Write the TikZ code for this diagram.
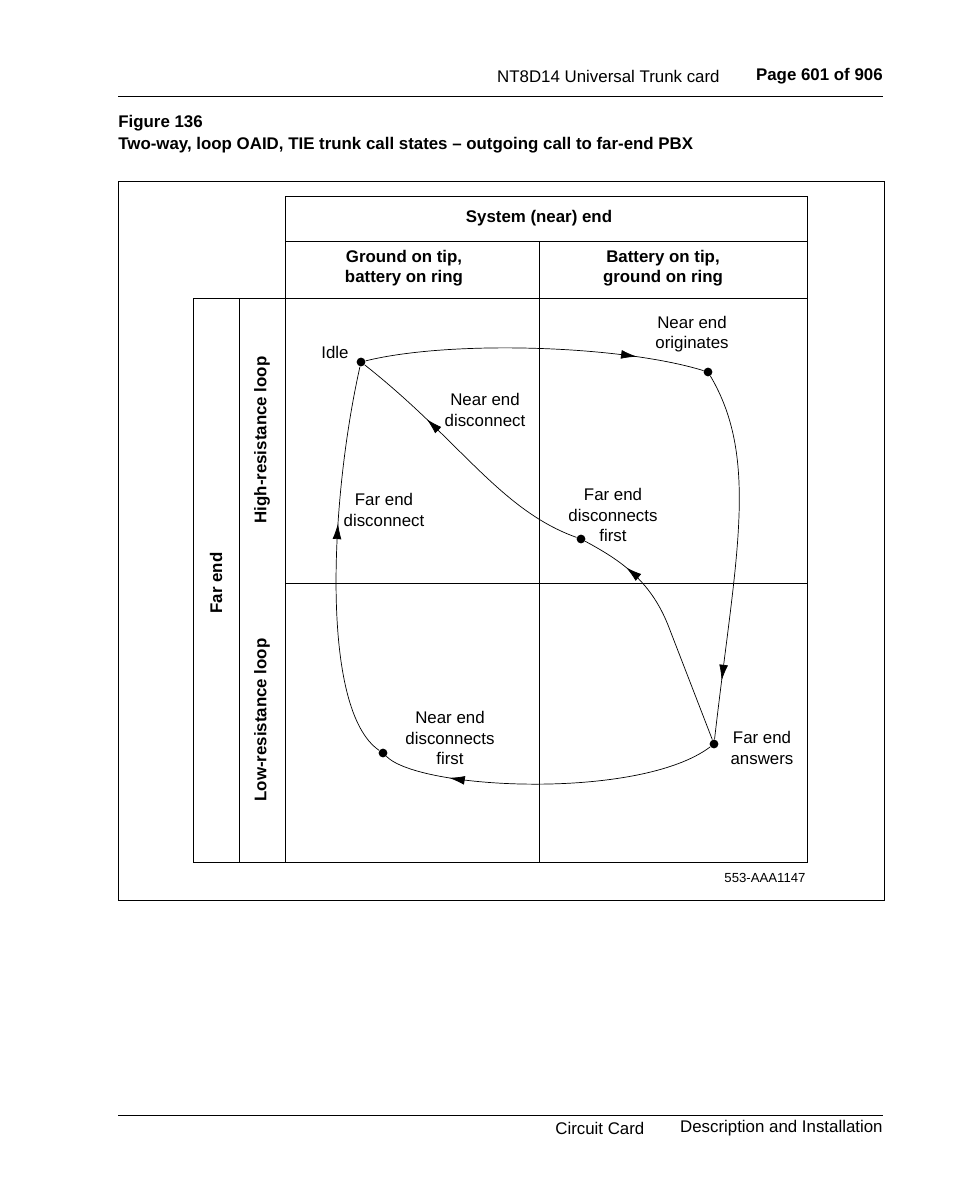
\documentclass[tikz,border=0pt]{standalone}
\usepackage{fontspec}
\setmainfont{Liberation Sans}
\usetikzlibrary{arrows.meta,decorations.markings}
\tikzset{
  lbl/.style={align=center,font=\fontsize{9.6}{11.5}\selectfont,inner sep=0pt},
  hdr/.style={align=center,font=\fontsize{9.6}{11.5}\selectfont\bfseries,inner sep=0pt},
  state/.style={circle,fill,inner sep=0pt,minimum size=5pt},
  flow/.style={postaction={decorate},decoration={markings,
    mark=at position #1 with {\arrow{Latex[length=9pt,width=5pt]}}}}
}
\begin{document}
\begin{tikzpicture}[x=0.02cm,y=-0.02cm]
\useasboundingbox (0,0) rectangle (954,1202);
% page header
\draw (118,96) -- (883,96);
\node[lbl,anchor=east] (run) at (720,76) {NT8D14 Universal Trunk card};
\node[hdr,anchor=east] (page) at (883,76) {Page 601 of 906};
\node[hdr,anchor=west] (fig) at (118,123) {Figure 136};
\node[hdr,anchor=west] (title) at (118,145) {Two-way, loop OAID, TIE trunk call states -- outgoing call to far-end PBX};
% frame and table
\draw (118,181) rectangle (884,900);
\draw (285,196) rectangle (807,241);
\draw (285,241) rectangle (807,298);
\draw (539,241) -- (539,862);
\draw (193,298) rectangle (807,862);
\draw (239,298) -- (239,862);
\draw (285,298) -- (285,862);
\draw (285,583) -- (807,583);
\node[hdr] (sys) at (539,218) {System (near) end};
\node[hdr] (gnd) at (404,268) {Ground on tip,\\battery on ring};
\node[hdr] (bat) at (663,268) {Battery on tip,\\ground on ring};
\node[hdr,rotate=90] (far) at (216,583) {Far end};
\node[hdr,rotate=90] (high) at (262,440) {High-resistance loop};
\node[hdr,rotate=90] (low) at (262,720) {Low-resistance loop};
% states
\node[state] (idle) at (361,362) {};
\node[state] (orig) at (708,372) {};
\node[state] (ans) at (714,744) {};
\node[state] (ndf) at (383,753) {};
\node[state] (fdf) at (581,539) {};
\coordinate (bend) at (668,625);
% transitions
\draw[flow=0.8] (idle) .. controls (450,340) and (620,345) .. (orig);
\draw[flow=0.84] (orig) .. controls (760,460) and (735,560) .. (ans);
\draw[flow=0.8] (ans) .. controls (640,800) and (420,790) .. (ndf);
\draw[flow=0.6] (ndf) .. controls (320,710) and (330,500) .. (idle);
\draw[flow=0.8] (ans) -- (bend) .. controls (650,580) and (620,560) .. (fdf);
\draw[flow=0.7] (fdf) .. controls (500,510) and (460,440) .. (idle);
% labels
\node[lbl] (tidle) at (335,352) {Idle};
\node[lbl] (torig) at (692,334) {Near end\\originates};
\node[lbl] (tnd) at (485,410) {Near end\\disconnect};
\node[lbl] (tfd) at (384,510) {Far end\\disconnect};
\node[lbl] (tfdf) at (613,515) {Far end\\disconnects\\first};
\node[lbl] (tndf) at (450,738) {Near end\\disconnects\\first};
\node[lbl] (tans) at (762,748) {Far end\\answers};
\node[lbl,font=\fontsize{7.5}{9}\selectfont] (code) at (765,878) {553-AAA1147};
% footer
\draw (118,1115) -- (883,1115);
\node[lbl,anchor=west] (foot1) at (555,1128) {Circuit Card};
\node[lbl,anchor=east] (foot2) at (883,1128) {Description and Installation};
\end{tikzpicture}
\end{document}
